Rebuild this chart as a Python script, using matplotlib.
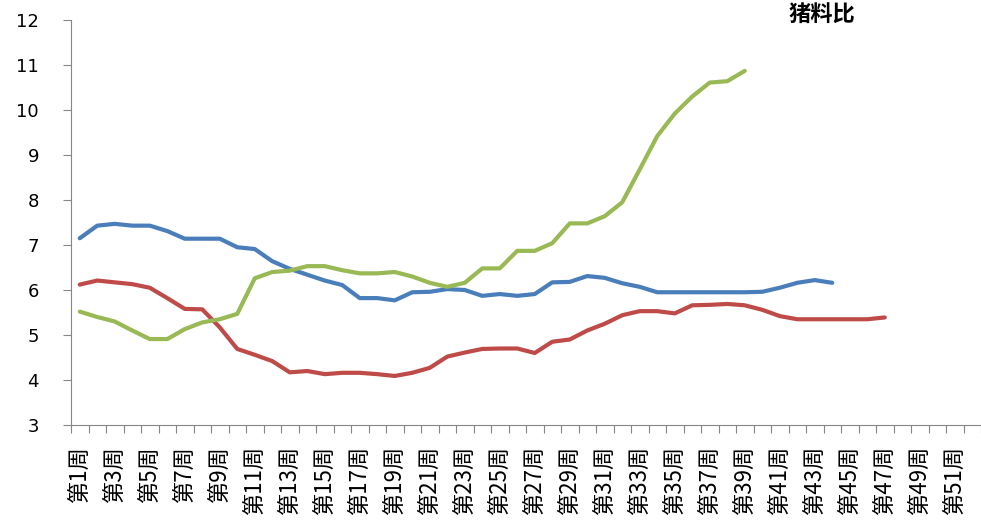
import numpy as np
import matplotlib.pyplot as plt

plt.rcParams['font.family'] = ['Noto Sans CJK SC', 'DejaVu Sans']

title = '猪料比'

# weekly values
blue = [7.15, 7.43, 7.47, 7.43, 7.43, 7.31, 7.14, 7.14, 7.14, 6.95,
        6.91, 6.64, 6.47, 6.34, 6.21, 6.11, 5.82, 5.82, 5.77, 5.95,
        5.96, 6.02, 6.0, 5.87, 5.91, 5.87, 5.91, 6.17, 6.18, 6.31,
        6.27, 6.15, 6.07, 5.95, 5.95, 5.95, 5.95, 5.95, 5.95, 5.96,
        6.05, 6.16, 6.22, 6.16]
red = [6.12, 6.21, 6.17, 6.13, 6.05, 5.82, 5.58, 5.57, 5.17, 4.69,
       4.56, 4.42, 4.17, 4.2, 4.13, 4.16, 4.16, 4.13, 4.09, 4.16,
       4.27, 4.52, 4.61, 4.69, 4.7, 4.7, 4.6, 4.85, 4.9, 5.1,
       5.25, 5.44, 5.53, 5.53, 5.48, 5.66, 5.67, 5.69, 5.66, 5.56,
       5.42, 5.35, 5.35, 5.35, 5.35, 5.35, 5.39]
green = [5.52, 5.4, 5.3, 5.1, 4.91, 4.91, 5.13, 5.28, 5.35, 5.47,
         6.26, 6.4, 6.43, 6.53, 6.53, 6.44, 6.37, 6.37, 6.4, 6.3,
         6.16, 6.07, 6.16, 6.48, 6.48, 6.87, 6.87, 7.04, 7.48, 7.48,
         7.64, 7.95, 8.68, 9.42, 9.92, 10.3, 10.61, 10.64, 10.87]

weeks = np.arange(1, 53)
week_labels = ['第%d周' % w for w in weeks]

fig = plt.figure(figsize=(9.81, 5.27), dpi=100)
ax = fig.add_axes([71/981, 102/527, 910/981, 405/527])

ax.plot(weeks[:len(blue)], blue, color='#4a7ebb', lw=3, solid_capstyle='round')
ax.plot(weeks[:len(red)], red, color='#be4b48', lw=3, solid_capstyle='round')
ax.plot(weeks[:len(green)], green, color='#98b954', lw=3, solid_capstyle='round')

ax.set_xlim(0.5, 52.5)
ax.set_ylim(3, 12)
ax.set_yticks(range(3, 13))
ax.tick_params(axis='y', direction='out', length=6, color='#868686',
               labelsize=13, pad=17)
for lab in ax.get_yticklabels():
    lab.set_family('DejaVu Sans')

# tick marks between categories, labels on every other week
ax.set_xticks(np.arange(0.5, 53, 1))
ax.set_xticklabels([])
ax.tick_params(axis='x', which='major', direction='out', length=6, color='#868686')
ax.set_xticks(weeks[::2], minor=True)
ax.set_xticklabels(week_labels[::2], minor=True, rotation=90, fontsize=16, va='top')
ax.tick_params(axis='x', which='minor', length=0, pad=15)

for s in ['top', 'right']:
    ax.spines[s].set_visible(False)
for s in ['left', 'bottom']:
    ax.spines[s].set_color('#868686')

fig.text(822/981, 1 - 3/527, title, ha='center', va='top',
         fontsize=16, fontweight='bold')

fig.savefig('out.png', dpi=100)
